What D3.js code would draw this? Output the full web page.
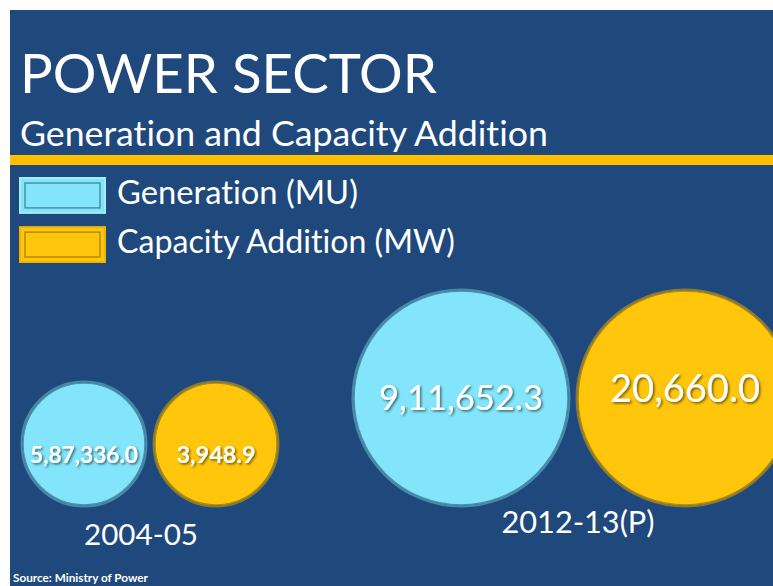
<!DOCTYPE html>
<html>
<head>
<meta charset="utf-8">
<script src="https://cdn.jsdelivr.net/npm/d3@7/dist/d3.min.js"></script>
<style>
  html, body { margin: 0; padding: 0; background: #fff; }
  svg { display: block; }
  text { font-variant-ligatures: none; font-feature-settings: "liga" 0; }
</style>
</head>
<body>
<div id="chart"></div>
<script>
// chart data
const periods = ['2004-05', '2012-13(P)'];
const seriesNames = ['Generation (MU)', 'Capacity Addition (MW)'];
const generation = [587336.0, 911652.3];
const capacityAddition = [3948.9, 20660.0];
const title = 'POWER SECTOR';
const subtitle = 'Generation and Capacity Addition';
const source = 'Source: Ministry of Power';

const width = 773;
const height = 586;
const font = 'Lato, "Open Sans", sans-serif';
const navy = '#1f497d';
const gold = '#ffc60b';
const sky = '#82e5fb';

// indian digit grouping: 5,87,336.0
function inr(v) {
  const parts = v.toFixed(1).split('.');
  const last3 = parts[0].slice(-3);
  const rest = parts[0].slice(0, -3).replace(/\B(?=(\d{2})+(?!\d))/g, ',');
  return (rest ? rest + ',' : '') + last3 + '.' + parts[1];
}

// scale font-size so the text spans w pixels
function fit(text, w) {
  const len = text.node().getComputedTextLength();
  const fs = parseFloat(text.attr('font-size'));
  text.attr('font-size', fs * w / len);
  return text;
}

const svg = d3.select('#chart').append('svg')
  .attr('width', width)
  .attr('height', height);

const defs = svg.append('defs');
const shadow = defs.append('filter').attr('id', 'shadow')
  .attr('x', '-10%').attr('y', '-20%').attr('width', '130%').attr('height', '160%');
shadow.append('feDropShadow')
  .attr('dx', 1.5).attr('dy', 1.5).attr('stdDeviation', 1)
  .attr('flood-color', '#000').attr('flood-opacity', 0.55);

// background panel
svg.append('rect')
  .attr('x', 10).attr('y', 10)
  .attr('width', width - 10).attr('height', height - 10)
  .attr('fill', navy);

// titles
const t1 = svg.append('text')
  .attr('x', 20).attr('y', 93)
  .attr('font-family', font).attr('font-size', 56)
  .attr('fill', '#fff')
  .text(title);
fit(t1, 417);

const t2 = svg.append('text')
  .attr('x', 20).attr('y', 146)
  .attr('font-family', font).attr('font-size', 32)
  .attr('fill', '#fff')
  .text(subtitle);
fit(t2, 528);

svg.append('rect')
  .attr('x', 10).attr('y', 155)
  .attr('width', width - 10).attr('height', 10)
  .attr('fill', '#ffc000');

// legend
const color = d3.scaleOrdinal(seriesNames, [sky, gold]);
const edge = d3.scaleOrdinal(seriesNames, ['#4c8ea6', '#b58a06']);
const rim = d3.scaleOrdinal(seriesNames, ['#a4ecfb', '#f2b400']);
const legendY = d3.scaleBand(seriesNames, [178, 262])
  .paddingInner(0.29).paddingOuter(0);

const legend = svg.append('g').selectAll('g')
  .data(seriesNames)
  .join('g')
  .attr('transform', d => `translate(20, ${legendY(d)})`);

legend.append('rect')
  .attr('width', 85).attr('height', legendY.bandwidth())
  .attr('fill', d => color(d))
  .attr('stroke', d => rim(d))
  .attr('stroke-width', 2);
legend.append('rect')
  .attr('x', 5).attr('y', 5)
  .attr('width', 75).attr('height', legendY.bandwidth() - 10)
  .attr('fill', 'none')
  .attr('stroke', d => edge(d))
  .attr('stroke-width', 1.5);

const legendWidth = d3.scaleOrdinal(seriesNames, [241, 338]);
legend.append('text')
  .attr('x', 97)
  .attr('y', legendY.bandwidth() - 9)
  .attr('font-family', font).attr('font-size', 30)
  .attr('fill', '#fff')
  .text(d => d)
  .each(function (d) { fit(d3.select(this), legendWidth(d)); });

// bubbles
const rows = [];
periods.forEach((p, i) => {
  rows.push({ key: p + '|g', period: p, series: seriesNames[0], value: generation[i] });
  rows.push({ key: p + '|c', period: p, series: seriesNames[1], value: capacityAddition[i] });
});
const keys = rows.map(d => d.key);

const groupX = d3.scaleOrdinal(periods, [150, 573]);
const radius = d3.scaleOrdinal(periods, [61, 107]);
const side = d3.scaleOrdinal(seriesNames, [-1, 1]);
const valueWeight = d3.scaleOrdinal(periods, ['bold', 'normal']);
const valueW = d3.scaleOrdinal(keys, [108, 79, 164, 150]);
const valueDy = d3.scaleOrdinal(keys, [19, 19, 12, 4]);
const bottom = 505;

const bubble = svg.append('g').selectAll('g')
  .data(rows)
  .join('g')
  .attr('transform', d => {
    const r = radius(d.period);
    return `translate(${groupX(d.period) + side(d.series) * (r + 5)}, ${bottom - r})`;
  });

bubble.append('circle')
  .attr('r', d => radius(d.period) + 1.5)
  .attr('fill', 'none')
  .attr('stroke', d => d3.color(color(d.series)).darker(0.4))
  .attr('stroke-opacity', 0.5)
  .attr('stroke-width', 2);

bubble.append('circle')
  .attr('r', d => radius(d.period))
  .attr('fill', d => color(d.series))
  .attr('stroke', d => edge(d.series))
  .attr('stroke-width', 1.5);

bubble.append('text')
  .attr('text-anchor', 'middle')
  .attr('y', d => valueDy(d.key))
  .attr('font-family', font)
  .attr('font-weight', d => valueWeight(d.period))
  .attr('font-size', 24)
  .attr('fill', '#fff')
  .attr('filter', 'url(#shadow)')
  .text(d => inr(d.value))
  .each(function (d) { fit(d3.select(this), valueW(d.key)); });

// period labels
const labelX = d3.scaleOrdinal(periods, [141, 578]);
const labelY = d3.scaleOrdinal(periods, [545, 533]);
const labelW = d3.scaleOrdinal(periods, [114, 153]);
svg.append('g').selectAll('text')
  .data(periods)
  .join('text')
  .attr('x', d => labelX(d))
  .attr('y', d => labelY(d))
  .attr('text-anchor', 'middle')
  .attr('font-family', font).attr('font-size', 30)
  .attr('fill', '#fff')
  .text(d => d)
  .each(function (d) { fit(d3.select(this), labelW(d)); });

// source
const src = svg.append('text')
  .attr('x', 13).attr('y', 582)
  .attr('font-family', font).attr('font-size', 12)
  .attr('font-weight', 'bold')
  .attr('fill', '#fff')
  .text(source);
fit(src, 135);
</script>
</body>
</html>
